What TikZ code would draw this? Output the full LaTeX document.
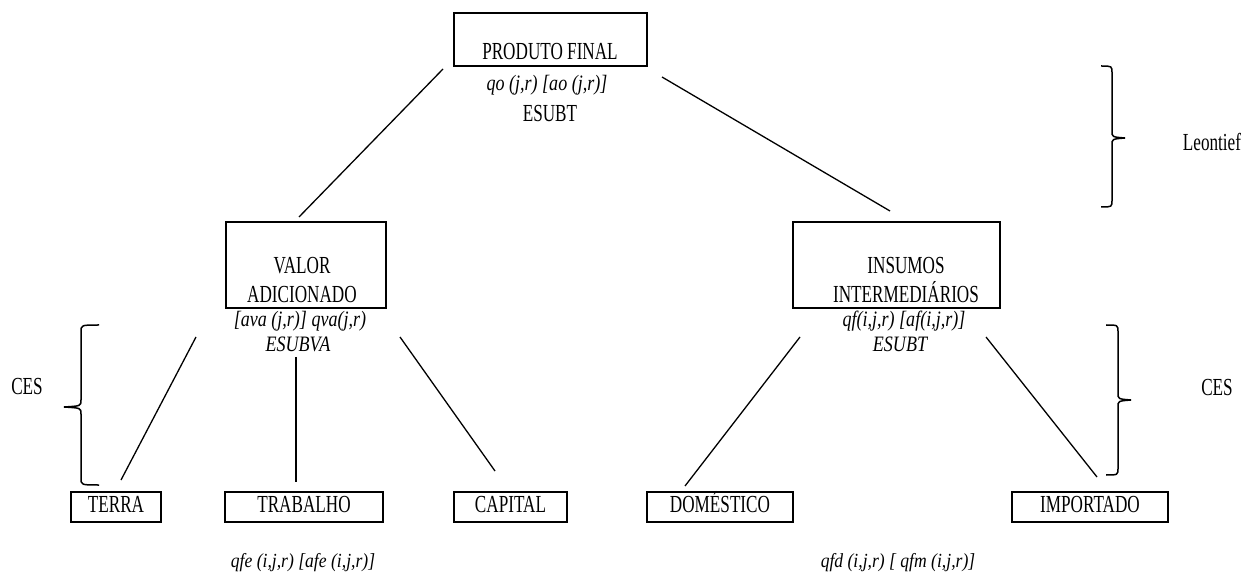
\documentclass[tikz,border=0pt]{standalone}
\usepackage{fontspec}
\setmainfont{Liberation Serif}[FakeStretch=0.7]
\newfontfamily\itfont{Liberation Serif}[FakeStretch=0.82]
\newfontfamily\lblfont{Liberation Serif}[FakeStretch=0.88]
\begin{document}
\begin{tikzpicture}[x=1pt,y=-1pt,
  boxst/.style={draw, line width=2pt, inner sep=0pt},
  lab/.style={font=\fontsize{24.5}{29}\selectfont, inner sep=0pt, align=center},
  botbox/.style={boxst, lab, minimum height=30pt, text height=16pt, text depth=5pt},
  ital/.style={font=\itfont\fontsize{22}{26}\selectfont\itshape, inner sep=0pt},
  bot/.style={font=\lblfont\fontsize{20}{22}\selectfont\itshape, inner sep=0pt},
  conn/.style={line width=1.3pt},
  bracest/.style={line width=1.5pt}]
\useasboundingbox (0,0) rectangle (1251,585);

% top box
\node[boxst, minimum width=193pt, minimum height=53pt] (pf) at (550.5,39.5) {};
\node[lab] (pft) at (550,52) {PRODUTO FINAL};
\node[ital] (pfq) at (547,85) {qo (j,r) [ao (j,r)]};
\node[lab] (pfe) at (550,114) {ESUBT};

% value added box
\node[boxst, minimum width=160pt, minimum height=86pt] (va) at (306,265) {};
\node[lab] (vat) at (302,280) {VALOR\\ADICIONADO};
\node[ital] (vaq) at (300,321) {[ava (j,r)] qva(j,r)};
\node[ital] (vae) at (298,344) {ESUBVA};

% intermediate inputs box
\node[boxst, minimum width=207pt, minimum height=86pt] (ii) at (896.5,265) {};
\node[lab] (iit) at (906,280) {INSUMOS\\INTERMEDI\'ARIOS};
\node[ital] (iiq) at (904,321) {qf(i,j,r) [af(i,j,r)]};
\node[ital] (iie) at (900,344) {ESUBT};

% bottom boxes
\node[botbox, minimum width=90pt] (te) at (116,507) {TERRA};
\node[botbox, minimum width=158pt] (tr) at (304,507) {TRABALHO};
\node[botbox, minimum width=113pt] (ca) at (510.5,507) {CAPITAL};
\node[botbox, minimum width=146pt] (do) at (720,507) {DOM\'ESTICO};
\node[botbox, minimum width=156pt] (im) at (1090,507) {IMPORTADO};

% bottom labels
\node[bot] (fe) at (303,563) {qfe (i,j,r) [afe (i,j,r)]};
\node[bot] (fd) at (898,563) {qfd (i,j,r) [ qfm (i,j,r)]};

% side labels
\node[lab] (cesl) at (27,387) {CES};
\node[lab] (cesr) at (1217,388) {CES};
\node[lab] (leo) at (1212,142) {Leontief};

% connector end points
\coordinate (a1) at (443,69);  \coordinate (a2) at (299,217);
\coordinate (b1) at (662,77);  \coordinate (b2) at (890,211);
\coordinate (c1) at (196,337); \coordinate (c2) at (121,480);
\coordinate (d1) at (296,357); \coordinate (d2) at (296,482);
\coordinate (e1) at (400,337); \coordinate (e2) at (495,471);
\coordinate (f1) at (800,337); \coordinate (f2) at (685,486);
\coordinate (g1) at (986,337); \coordinate (g2) at (1097,477);

\draw[conn] (a1) -- (a2);
\draw[conn] (b1) -- (b2);
\draw[conn] (c1) -- (c2);
\draw[conn] (d1) -- (d2);
\draw[conn] (e1) -- (e2);
\draw[conn] (f1) -- (f2);
\draw[conn] (g1) -- (g2);

% left brace (CES)
\draw[bracest] (99,325) .. controls (81,325) .. (81,332) -- (81,400)
  .. controls (81,406) .. (64,407) .. controls (81,408) .. (81,414)
  -- (81,478) .. controls (81,485) .. (99,485);
% Leontief brace
\draw[bracest] (1101,66) .. controls (1112,66) .. (1112,73) -- (1112,131)
  .. controls (1112,137) .. (1125,138) .. controls (1112,139) .. (1112,145)
  -- (1112,200) .. controls (1112,207) .. (1101,207);
% right CES brace
\draw[bracest] (1106,325) .. controls (1118,325) .. (1118,332) -- (1118,393)
  .. controls (1118,399) .. (1131,400) .. controls (1118,401) .. (1118,407)
  -- (1118,468) .. controls (1118,475) .. (1106,475);
\end{tikzpicture}
\end{document}
